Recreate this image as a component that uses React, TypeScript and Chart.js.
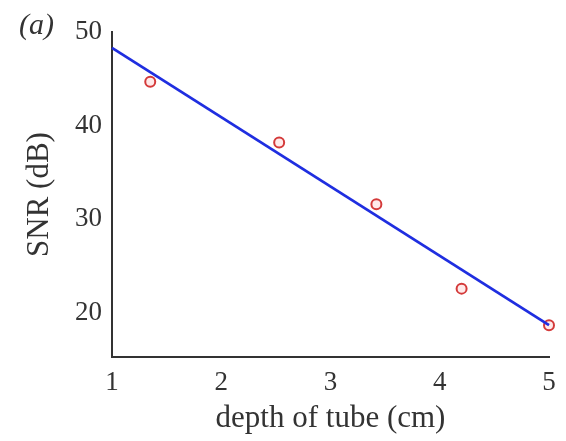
import React, { useEffect, useRef } from "react";
import { Chart, registerables } from "chart.js";

Chart.register(...registerables);

const depthPoints = [1.35, 2.53, 3.42, 4.2, 5.0];
const snrPoints = [44.7, 38.2, 31.6, 22.6, 18.7];
const fitX = [1, 5];
const fitY = [48.3, 18.7];
const yTicks = [20, 30, 40, 50];
const xTicks = [1, 2, 3, 4, 5];

const FONT = "'Liberation Serif', 'Times New Roman', serif";

export default function App() {
  const ref = useRef<HTMLCanvasElement | null>(null);
  useEffect(() => {
    document.body.style.margin = "0";
    const canvas = ref.current!;
    const labelPlugin = {
      id: "panelLabel",
      afterDraw(chart: any) {
        const ctx = chart.ctx;
        ctx.save();
        ctx.fillStyle = "#333";
        ctx.font = `italic 30px ${FONT}`;
        ctx.textBaseline = "middle";
        ctx.textAlign = "left";
        ctx.fillText("(a)", 19, 26);
        ctx.restore();
      },
    };
    const chart = new Chart(canvas, {
      type: "scatter",
      data: {
        datasets: [
          {
            type: "line",
            data: fitX.map((x, i) => ({ x, y: fitY[i] })),
            borderColor: "#1f2ee0",
            borderWidth: 2.8,
            pointRadius: 0,
            fill: false,
            clip: false as any,
          },
          {
            data: depthPoints.map((x, i) => ({ x, y: snrPoints[i] })),
            borderColor: "#d43a3a",
            backgroundColor: "rgba(255,225,225,0.7)",
            borderWidth: 2,
            pointRadius: 5,
            clip: false as any,
          },
        ],
      },
      options: {
        animation: false,
        responsive: false,
        layout: { padding: { top: 32, right: 17, left: 0, bottom: 0 } },
        plugins: { legend: { display: false }, tooltip: { enabled: false } },
        scales: {
          x: {
            type: "linear",
            min: 1,
            max: 5,
            afterBuildTicks: (s: any) => {
              s.ticks = xTicks.map((v) => ({ value: v }));
            },
            afterFit: (s: any) => {
              s.height = 84;
            },
            grid: { display: false, drawTicks: false },
            border: { display: true, color: "#333", width: 2 },
            ticks: { color: "#333", font: { family: FONT, size: 27 }, padding: 10, maxRotation: 0 },
            title: {
              display: true,
              text: "depth of tube (cm)",
              color: "#333",
              font: { family: FONT, size: 31 },
              padding: { top: 0, bottom: 4 },
            },
          },
          y: {
            type: "linear",
            min: 15.3,
            max: 50,
            afterBuildTicks: (s: any) => {
              s.ticks = yTicks.map((v) => ({ value: v }));
            },
            afterFit: (s: any) => {
              s.width = 112;
            },
            grid: { display: false, drawTicks: false },
            border: { display: true, color: "#333", width: 2 },
            ticks: { color: "#333", font: { family: FONT, size: 27 }, padding: 10 },
            title: {
              display: true,
              text: "SNR (dB)",
              color: "#333",
              font: { family: FONT, size: 31 },
              padding: { top: 21, bottom: 0 },
            },
          },
        },
      },
      plugins: [labelPlugin],
    } as any);
    return () => chart.destroy();
  }, []);
  return <canvas ref={ref} width={566} height={441} style={{ display: "block" }} />;
}
